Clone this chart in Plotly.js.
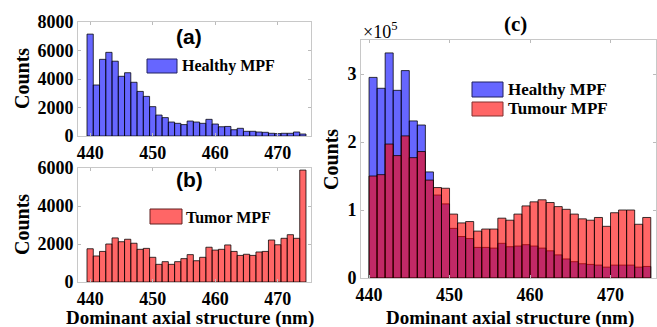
<!DOCTYPE html>
<html>
<head>
<meta charset="utf-8">
<script src="https://cdn.plot.ly/plotly-3.0.1.min.js"></script>
<style>html,body{margin:0;padding:0;background:#fff;}#chart{width:657px;height:327px;}</style>
</head>
<body>
<div id="chart"></div>
<script>
// Bin positions (nm)
var bins = [440,441,442,443,444,445,446,447,448,449,450,451,452,453,454,455,456,457,458,459,460,461,462,463,464,465,466,467,468,469,470,471,472,473,474];

// (a) Healthy MPF counts
var healthyA = [7150,3580,5380,5870,5250,4190,4440,3770,3130,2780,2060,1470,1290,980,890,800,1050,980,890,1170,840,650,670,440,540,330,330,280,260,190,170,190,190,280,140];

// (b) Tumor MPF counts
var tumorB = [1750,1370,1610,2000,2320,2120,2250,2040,1720,1770,1300,930,1070,930,1070,1230,1440,1120,1300,1830,1680,1720,1950,1610,1400,1460,1400,1580,1610,2210,1960,2300,2490,2300,5890];

// (c) Healthy and Tumour MPF counts
var healthyC = [295000,279000,331000,276000,305000,231000,225000,156000,122000,109000,73000,61000,58000,45000,45000,44000,51000,46000,47000,49000,47000,44000,40000,34000,28000,24000,21000,20000,19000,16000,19000,19000,19000,16000,17000];
var tumourC = [150000,152000,197000,180000,209000,177000,186000,144000,133000,132000,94000,81000,83000,69000,72000,72000,88000,85000,94000,106000,112000,115000,111000,105000,101000,94000,87000,85000,89000,76000,96000,100000,100000,79000,89000];

var yTicksA = [0,2000,4000,6000,8000];
var yTicksB = [0,2000,4000,6000];
var yTicksC = [0,100000,200000,300000];
var yTickTextC = ['0','1','2','3'];
var xTicks = [440,450,460,470];

var BLUE = 'rgba(0,0,255,0.6)';
var RED = 'rgba(255,0,0,0.6)';
var EDGE = {color:'rgba(0,0,0,0.85)', width:0.9};
var SERIF = 'Liberation Serif';

var traces = [
  {type:'bar', x:bins, y:healthyA, xaxis:'x', yaxis:'y', width:1, marker:{color:BLUE, line:EDGE}, name:'Healthy MPF', showlegend:false},
  {type:'bar', x:bins, y:tumorB, xaxis:'x2', yaxis:'y2', width:1, marker:{color:RED, line:EDGE}, name:'Tumor MPF', showlegend:false},
  {type:'bar', x:bins, y:healthyC, xaxis:'x3', yaxis:'y3', width:1, offset:0, marker:{color:BLUE, line:EDGE}, name:'Healthy MPF', showlegend:false},
  {type:'bar', x:bins, y:tumourC, xaxis:'x3', yaxis:'y3', width:1, offset:0, marker:{color:RED, line:EDGE}, name:'Tumour MPF', showlegend:false}
];

function W(px){return px/657;}
function H(py){return 1-py/327;}

var tickFont = {family:SERIF, size:18, color:'#000', weight:'bold'};
function xax(domain, range, anchor){
  return {domain:domain, range:range, anchor:anchor, tickvals:xTicks, ticks:'inside', ticklen:3, tickcolor:'#bbb',
    showline:true, mirror:'ticks', linecolor:'#c8c8c8', linewidth:1, showgrid:false, zeroline:false,
    tickfont:tickFont, automargin:false};
}
function yax(domain, range, anchor, tv, tt){
  var a = {domain:domain, range:range, anchor:anchor, tickvals:tv, ticks:'inside', ticklen:3, tickcolor:'#bbb',
    showline:true, mirror:'ticks', linecolor:'#c8c8c8', linewidth:1, showgrid:false, zeroline:false,
    tickfont:tickFont, automargin:false};
  if(tt){a.ticktext = tt;}
  return a;
}
function ann(text, x, y, font, opts){
  var a = {text:text, xref:'paper', yref:'paper', x:W(x), y:H(y), showarrow:false, xanchor:'center', yanchor:'middle', font:font};
  if(opts){for(var k in opts){a[k]=opts[k];}}
  return a;
}
var countsFont = {family:SERIF, size:20, color:'#000', weight:'bold'};
var xTitleFont = {family:SERIF, size:19, color:'#000', weight:'bold'};
var legFont = {family:SERIF, size:16, color:'#000', weight:'bold'};
var panelFont = {family:'Liberation Sans', size:21, color:'#000', weight:'bold'};

var layout = {
  width:657, height:327,
  margin:{l:0, r:0, t:0, b:0},
  paper_bgcolor:'#fff', plot_bgcolor:'#fff',
  barmode:'overlay', bargap:0,
  showlegend:false,
  xaxis: xax([W(78),W(311)], [438.06,475.3], 'y'),
  yaxis: yax([H(136),H(22)], [0,8000], 'x', yTicksA),
  xaxis2: xax([W(78),W(311)], [438.06,475.3], 'y2'),
  yaxis2: yax([H(282),H(168)], [0,6000], 'x2', yTicksB),
  xaxis3: xax([W(361),W(656)], [439.0,475.65], 'y3'),
  yaxis3: yax([H(278),H(40)], [0,350000], 'x3', yTicksC, yTickTextC),
  shapes: [
    {type:'rect', xref:'paper', yref:'paper', x0:W(147), x1:W(177), y0:H(73), y1:H(59), fillcolor:BLUE, line:{color:'#202060', width:1}},
    {type:'rect', xref:'paper', yref:'paper', x0:W(150), x1:W(182), y0:H(224), y1:H(209), fillcolor:RED, line:{color:'#602020', width:1}},
    {type:'rect', xref:'paper', yref:'paper', x0:W(472), x1:W(503), y0:H(97), y1:H(82), fillcolor:BLUE, line:{color:'#202060', width:1}},
    {type:'rect', xref:'paper', yref:'paper', x0:W(472), x1:W(503), y0:H(116), y1:H(102), fillcolor:RED, line:{color:'#803030', width:1}}
  ],
  annotations: [
    ann('Counts', 22, 79, countsFont, {textangle:-90}),
    ann('Counts', 22, 225, countsFont, {textangle:-90}),
    ann('Counts', 331, 160, countsFont, {textangle:-90}),
    ann('Dominant axial structure (nm)', 190, 318, xTitleFont),
    ann('Dominant axial structure (nm)', 510, 318, xTitleFont),
    ann('(a)', 189, 36, panelFont),
    ann('(b)', 189, 179, panelFont),
    ann('(c)', 515, 24, {family:SERIF, size:21, color:'#000', weight:'bold'}),
    ann('×10<sup>5</sup>', 361, 30, {family:SERIF, size:18, color:'#000'}, {xanchor:'left'}),
    ann('Healthy MPF', 180, 66, legFont, {xanchor:'left'}),
    ann('Tumor MPF', 184, 217, legFont, {xanchor:'left'}),
    ann('Healthy MPF', 506, 89, {family:SERIF, size:17, color:'#000', weight:'bold'}, {xanchor:'left'}),
    ann('Tumour MPF', 506, 109, {family:SERIF, size:17, color:'#000', weight:'bold'}, {xanchor:'left'})
  ]
};

Plotly.newPlot('chart', traces, layout, {displayModeBar:false, staticPlot:true});
</script>
</body>
</html>
